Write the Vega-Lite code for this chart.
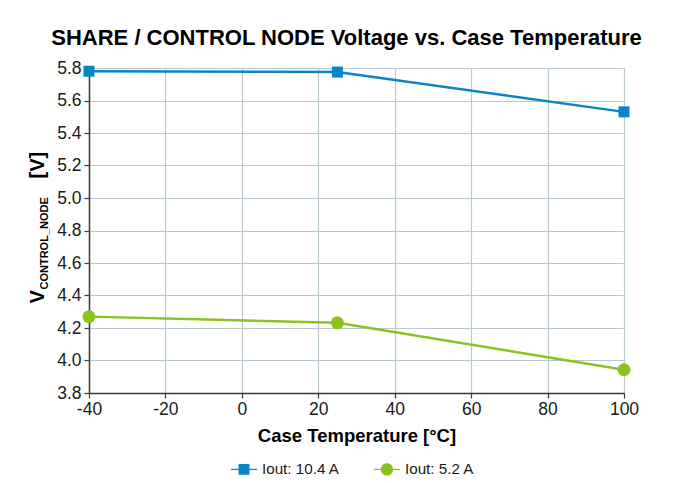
{
  "$schema": "https://vega.github.io/schema/vega-lite/v6.json",
  "width": 535,
  "height": 325,
  "autosize": {"type": "none"},
  "padding": {"left": 89, "top": 68, "right": 67, "bottom": 90},
  "background": "white",
  "title": {
    "text": "SHARE / CONTROL NODE Voltage vs. Case Temperature",
    "font": "Liberation Sans",
    "fontSize": 22,
    "fontWeight": "bold",
    "color": "#000000",
    "anchor": "middle",
    "offset": 9,
    "dx": -10
  },
  "data": {
    "values": [
      {"T": -40, "V": 5.78, "series": "Iout: 10.4 A"},
      {"T": 25, "V": 5.775, "series": "Iout: 10.4 A"},
      {"T": 100, "V": 5.53, "series": "Iout: 10.4 A"},
      {"T": -40, "V": 4.27, "series": "Iout: 5.2 A"},
      {"T": 25, "V": 4.232, "series": "Iout: 5.2 A"},
      {"T": 100, "V": 3.943, "series": "Iout: 5.2 A"}
    ]
  },
  "config": {
    "font": "Liberation Sans",
    "view": {"stroke": null},
    "axis": {
      "labelFont": "Liberation Sans",
      "labelFontSize": 17.5,
      "labelColor": "#1a1a1a",
      "labelFlush": false,
      "labelOverlap": false,
      "domainColor": "#3a3a3a",
      "domainWidth": 1.5,
      "tickColor": "#3a3a3a",
      "tickSize": 5,
      "tickWidth": 1.2,
      "gridColor": "#b9c9d2",
      "gridWidth": 1.2,
      "titleFont": "Liberation Sans",
      "titleFontWeight": "bold",
      "titleColor": "#000000"
    }
  },
  "layer": [
    {
      "mark": {"type": "point", "filled": true, "opacity": 0},
      "encoding": {
        "x": {"field": "T", "type": "quantitative"},
        "y": {"field": "V", "type": "quantitative", "axis": null},
        "color": {
          "field": "series",
          "type": "nominal",
          "scale": {"domain": ["Iout: 10.4 A", "Iout: 5.2 A"], "range": ["#0a84c6", "#8cc21f"]},
          "legend": {
            "orient": "none",
            "legendX": 142,
            "legendY": 388,
            "padding": 0,
            "direction": "horizontal",
            "title": null,
            "labelFontSize": 15.2,
            "labelColor": "#1a1a1a",
            "labelOffset": 5,
            "columnPadding": 34,
            "symbolSize": 676,
            "symbolOpacity": 1,
            "symbolStrokeWidth": 0
          }
        },
        "shape": {
          "field": "series",
          "type": "nominal",
          "scale": {
            "domain": ["Iout: 10.4 A", "Iout: 5.2 A"],
            "range": [
              "M-1,-0.05H1V0.05H-1ZM-0.42,-0.42H0.42V0.42H-0.42Z",
              "M-1,-0.05H1V0.05H-1ZM0.47,0A0.47,0.47,0,1,1,-0.47,0A0.47,0.47,0,1,1,0.47,0Z"
            ]
          }
        }
      }
    },
    {
      "mark": {"type": "line", "strokeWidth": 2.5},
      "encoding": {
        "x": {
          "field": "T",
          "type": "quantitative",
          "scale": {"domain": [-40, 100], "nice": false, "zero": false},
          "axis": {
            "values": [-40, -20, 0, 20, 40, 60, 80, 100],
            "labelExpr": "replace(datum.label, '\u2212', '-')",
            "grid": true,
            "title": "Case Temperature [°C]",
            "titleFontSize": 18.5,
            "titlePadding": 9,
            "labelPadding": 2
          }
        },
        "y": {
          "field": "V",
          "type": "quantitative",
          "scale": {"domain": [3.8, 5.8], "nice": false, "zero": false},
          "axis": {
            "orient": "left",
            "grid": true,
            "values": [3.8, 4.0, 4.2, 4.4, 4.6, 4.8, 5.0, 5.2, 5.4, 5.6, 5.8],
            "format": ".1f",
            "labelPadding": 3,
            "title": "V",
            "titleFontSize": 20,
            "titleAngle": 270,
            "titleAlign": "left",
            "titleBaseline": "alphabetic",
            "titleX": -46,
            "titleY": 235
          }
        },
        "color": {"field": "series", "type": "nominal"}
      }
    },
    {
      "transform": [{"filter": "datum.series === 'Iout: 10.4 A'"}],
      "mark": {"type": "point", "filled": true, "opacity": 1, "shape": "square", "size": 121},
      "encoding": {
        "x": {"field": "T", "type": "quantitative"},
        "y": {"field": "V", "type": "quantitative", "axis": null},
        "color": {"field": "series", "type": "nominal"}
      }
    },
    {
      "transform": [{"filter": "datum.series === 'Iout: 5.2 A'"}],
      "mark": {"type": "point", "filled": true, "opacity": 1, "shape": "circle", "size": 169},
      "encoding": {
        "x": {"field": "T", "type": "quantitative"},
        "y": {"field": "V", "type": "quantitative", "axis": null},
        "color": {"field": "series", "type": "nominal"}
      }
    },
    {
      "mark": {"type": "point", "opacity": 0},
      "encoding": {
        "y": {
          "field": "V",
          "type": "quantitative",
          "axis": {
            "orient": "left",
            "labels": false,
            "ticks": false,
            "domain": false,
            "grid": false,
            "title": "CONTROL_NODE",
            "titleFontSize": 11,
            "titleAngle": 270,
            "titleAlign": "left",
            "titleBaseline": "alphabetic",
            "titleX": -41.5,
            "titleY": 221
          }
        }
      }
    },
    {
      "mark": {"type": "point", "opacity": 0},
      "encoding": {
        "y": {
          "field": "V",
          "type": "quantitative",
          "axis": {
            "orient": "left",
            "labels": false,
            "ticks": false,
            "domain": false,
            "grid": false,
            "title": "[V]",
            "titleFontSize": 20,
            "titleAngle": 270,
            "titleAlign": "left",
            "titleBaseline": "alphabetic",
            "titleX": -46,
            "titleY": 110
          }
        }
      }
    }
  ],
  "resolve": {"axis": {"y": "independent"}}
}
